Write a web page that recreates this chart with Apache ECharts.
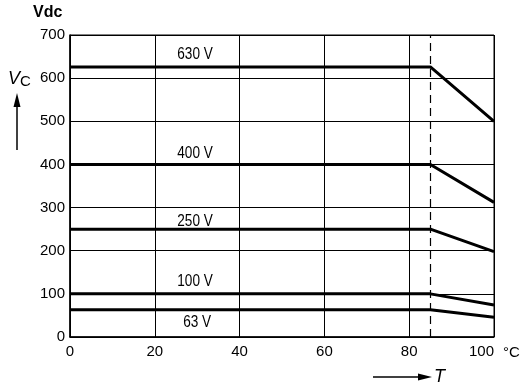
<!DOCTYPE html>
<html>
<head>
<meta charset="utf-8">
<script src="https://cdn.jsdelivr.net/npm/echarts@6/dist/echarts.min.js"></script>
<style>html,body{margin:0;padding:0;background:#fff}#c{width:523px;height:387px}</style>
</head>
<body>
<div id="c"></div>
<script>
// Data
var temps = [0, 85, 100];
var v630 = [626, 626, 500];
var v400 = [400, 400, 312];
var v250 = [250, 250, 198];
var v100 = [100, 100, 74];
var v63 = [63, 63, 46];
var seriesNames = ['630 V', '400 V', '250 V', '100 V', '63 V'];
var seriesValues = [v630, v400, v250, v100, v63];
var labelPos = [[29.5, 654], [29.5, 425], [29.5, 268], [29.5, 128], [30, 33]];
var derateTemp = 85;
var xTicks = [0, 20, 40, 60, 80, 100];
var yTicks = [0, 100, 200, 300, 400, 500, 600, 700];

var FONT = '"Liberation Sans",Arial,sans-serif';
var chart = echarts.init(document.getElementById('c'), null, {renderer: 'canvas'});

var series = seriesValues.map(function (vals, i) {
  var s = {
    type: 'line',
    name: seriesNames[i],
    data: temps.map(function (t, j) { return [t, vals[j]]; }),
    symbol: 'none',
    lineStyle: {color: '#000', width: 3},
    z: 5
  };
  if (i === 0) {
    s.markLine = {
      symbol: 'none', silent: true,
      lineStyle: {color: '#000', width: 1.2, type: [8, 5]},
      label: {show: false},
      data: [[{coord: [derateTemp, yTicks[0]]}, {coord: [derateTemp, yTicks[yTicks.length - 1]]}]]
    };
  }
  return s;
});

var staticGraphics = [
  {type: 'text', left: 33, top: 5, style: {text: 'Vdc', font: 'bold 16px ' + FONT, fill: '#000'}},
  {type: 'text', left: 8, top: 70, style: {
    text: '{v|V}{c|C}', fill: '#000',
    rich: {
      v: {font: 'italic 18px ' + FONT, fill: '#000'},
      c: {font: '15px ' + FONT, fill: '#000', padding: [6, 0, 0, 0]}
    }
  }},
  {type: 'line', shape: {x1: 17, y1: 150, x2: 17, y2: 105}, style: {stroke: '#000', lineWidth: 1.5}},
  {type: 'polygon', shape: {points: [[17, 93], [13.5, 107], [20.5, 107]]}, style: {fill: '#000'}},
  {type: 'text', left: 503, top: 345, style: {text: '°C', font: '15px ' + FONT, fill: '#000'}},
  {type: 'line', shape: {x1: 373, y1: 377, x2: 420, y2: 377}, style: {stroke: '#000', lineWidth: 1.5}},
  {type: 'polygon', shape: {points: [[432, 377], [418, 373.5], [418, 380.5]]}, style: {fill: '#000'}},
  {type: 'text', left: 434, top: 368, style: {text: 'T', font: 'italic 18px ' + FONT, fill: '#000'}}
];

chart.setOption({
  animation: false,
  backgroundColor: '#fff',
  grid: {left: 70, right: 29, top: 35, bottom: 50, show: true, borderColor: '#000', borderWidth: 1},
  xAxis: {
    type: 'value', min: xTicks[0], max: xTicks[xTicks.length - 1], interval: 20,
    axisLine: {show: true, lineStyle: {color: '#000', width: 1.5}},
    axisTick: {show: false},
    splitLine: {show: true, lineStyle: {color: '#000', width: 1}},
    axisLabel: {color: '#000', fontFamily: FONT, fontSize: 15, margin: 7, alignMaxLabel: 'right'}
  },
  yAxis: {
    type: 'value', min: yTicks[0], max: yTicks[yTicks.length - 1], interval: 100,
    axisLine: {show: true, lineStyle: {color: '#000', width: 1.5}},
    axisTick: {show: false},
    splitLine: {show: true, lineStyle: {color: '#000', width: 1}},
    axisLabel: {color: '#000', fontFamily: FONT, fontSize: 15, margin: 5}
  },
  series: series
});

var labelGraphics = seriesNames.map(function (name, i) {
  var p = chart.convertToPixel({gridIndex: 0}, labelPos[i]);
  return {
    type: 'text', x: p[0], y: p[1], scaleX: 0.85, z: 10,
    style: {text: name, font: '16px ' + FONT, fill: '#000', align: 'center', verticalAlign: 'middle'}
  };
});
chart.setOption({graphic: staticGraphics.concat(labelGraphics)});
</script>
</body>
</html>
